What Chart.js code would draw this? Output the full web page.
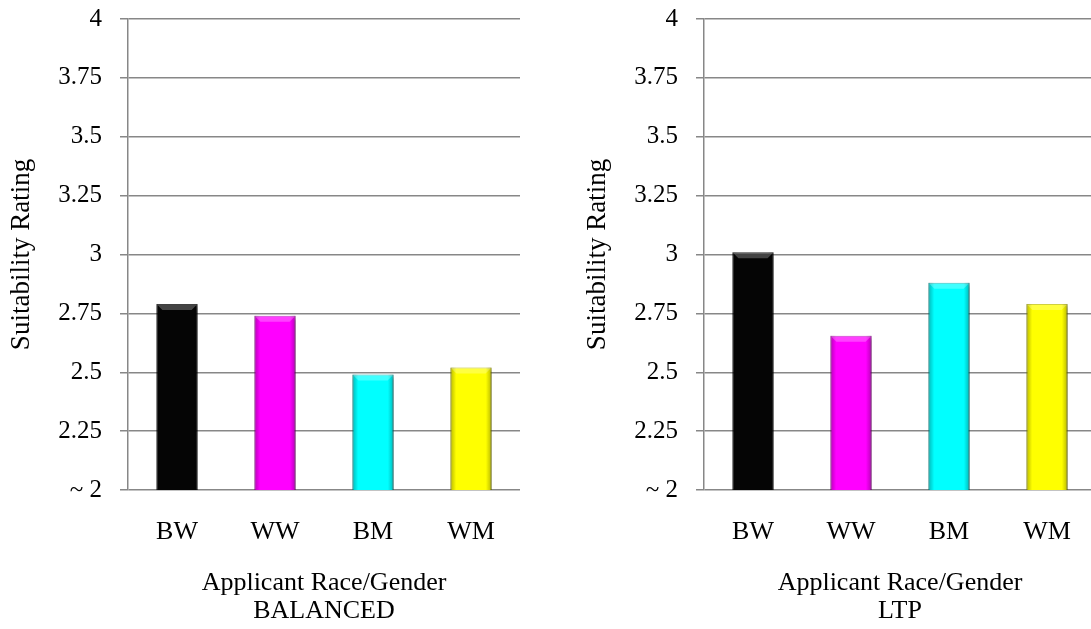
<!DOCTYPE html>
<html>
<head>
<meta charset="utf-8">
<script src="https://cdn.jsdelivr.net/npm/chart.js@4"></script>
<style>
    html, body { margin: 0; padding: 0; background: #fff; overflow: hidden; width: 1091px; height: 629px; }
    canvas { position: absolute; top: 0; }
    #leftChart { left: 0; }
    #rightChart { left: 576px; }
</style>
</head>
<body>
<canvas id="leftChart" width="540" height="629"></canvas>
<canvas id="rightChart" width="540" height="629"></canvas>
<script>
const categories = ['BW', 'WW', 'BM', 'WM'];
const balancedValues = [2.79, 2.74, 2.49, 2.52];
const ltpValues = [3.01, 2.655, 2.88, 2.79];
const barColors = ['#050505', '#ff00ff', '#00ffff', '#ffff00'];
const barBorders = ['#000000', '#c400c4', '#00b8b8', '#c8c800'];
const tickLabels = ['~ 2', '2.25', '2.5', '2.75', '3', '3.25', '3.5', '3.75', '4'];

const gridGray = '#878787';
const serif = "'Liberation Serif', 'Times New Roman', serif";

// soft drop shadow under the bars + a light bevel, like the original
const barShadow = {
    id: 'barShadow',
    beforeDatasetsDraw(chart) {
        const ctx = chart.ctx;
        ctx.save();
        ctx.shadowColor = 'rgba(0,0,0,0.35)';
        ctx.shadowBlur = 4;
        ctx.shadowOffsetX = 2;
        ctx.shadowOffsetY = 2;
    },
    afterDatasetsDraw(chart) {
        const ctx = chart.ctx;
        ctx.restore();
        const bottom = chart.chartArea.bottom;
        chart.getDatasetMeta(0).data.forEach(bar => {
            const p = bar.getProps(['x', 'y', 'width'], true);
            const left = p.x - p.width / 2;
            const w = p.width;
            const h = bottom - p.y;
            // darker side edges
            const g = ctx.createLinearGradient(left, 0, left + w, 0);
            g.addColorStop(0, 'rgba(0,0,0,0.28)');
            g.addColorStop(0.14, 'rgba(0,0,0,0)');
            g.addColorStop(0.86, 'rgba(0,0,0,0)');
            g.addColorStop(1, 'rgba(0,0,0,0.28)');
            ctx.fillStyle = g;
            ctx.fillRect(left, p.y, w, h);
            // lighter top cap
            ctx.fillStyle = 'rgba(255,255,255,0.25)';
            ctx.beginPath();
            ctx.moveTo(left, p.y);
            ctx.lineTo(left + w, p.y);
            ctx.lineTo(left + w - 6, p.y + 6);
            ctx.lineTo(left + 6, p.y + 6);
            ctx.closePath();
            ctx.fill();
        });
    }
};

function makeChart(canvasId, values, caption) {
    const ctx = document.getElementById(canvasId).getContext('2d');
    return new Chart(ctx, {
        type: 'bar',
        data: {
            labels: categories,
            datasets: [{
                data: values,
                backgroundColor: barColors,
                borderColor: barBorders,
                borderWidth: 1,
                borderSkipped: 'bottom',
                barPercentage: 0.42,
                categoryPercentage: 1
            }]
        },
        options: {
            responsive: false,
            animation: false,
            layout: { padding: { top: 19, right: 20, bottom: 0, left: 0 } },
            plugins: {
                legend: { display: false },
                tooltip: { enabled: false }
            },
            scales: {
                x: {
                    grid: { display: false, drawTicks: false },
                    border: { display: false },
                    ticks: {
                        color: '#000',
                        padding: 27,
                        font: { family: serif, size: 26 }
                    },
                    title: {
                        display: true,
                        text: ['Applicant Race/Gender', caption],
                        color: '#000',
                        padding: { top: 0, bottom: 4 },
                        font: { family: serif, size: 26, lineHeight: 1.08 }
                    },
                    afterFit: function(scale) { scale.height = 139; }
                },
                y: {
                    min: 2,
                    max: 4,
                    grid: { color: gridGray, lineWidth: 1.5, tickLength: 8 },
                    border: { color: gridGray, width: 1.5 },
                    ticks: {
                        stepSize: 0.25,
                        color: '#000',
                        padding: 18,
                        font: { family: serif, size: 25 },
                        callback: function(value, index) { return tickLabels[index]; }
                    },
                    title: {
                        display: true,
                        text: 'Suitability Rating',
                        color: '#000',
                        padding: { top: 6, bottom: 0 },
                        font: { family: serif, size: 27 }
                    },
                    afterFit: function(scale) {
                        scale.width = 128;
                        scale.paddingTop = 0;
                        scale.paddingBottom = 0;
                    }
                }
            }
        },
        plugins: [barShadow]
    });
}

makeChart('leftChart', balancedValues, 'BALANCED');
makeChart('rightChart', ltpValues, 'LTP');
</script>
</body>
</html>
